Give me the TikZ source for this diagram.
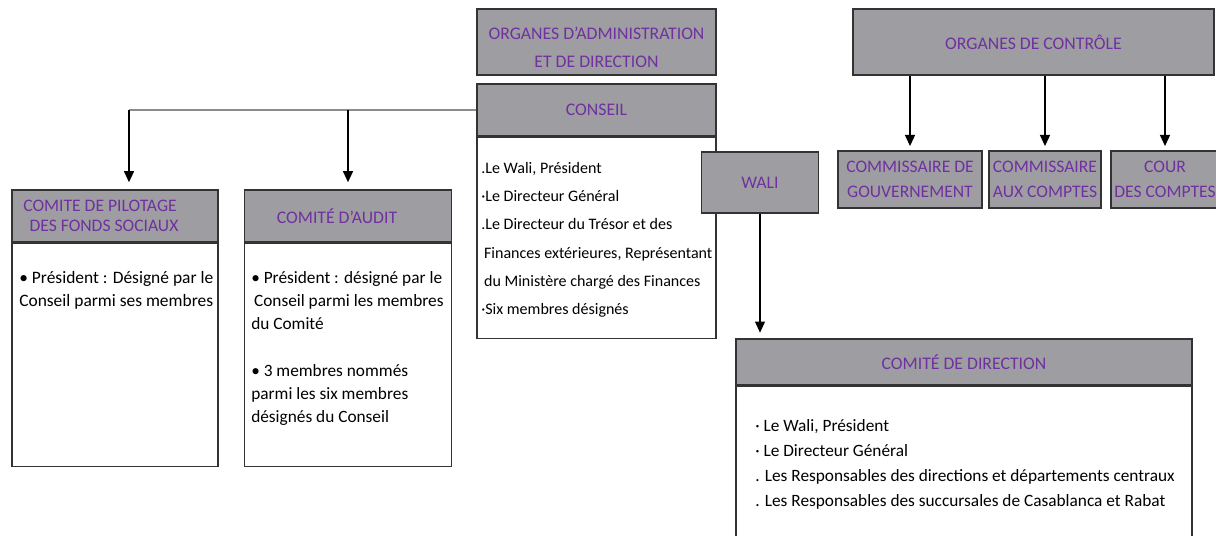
\documentclass[tikz,border=0pt]{standalone}
\usepackage{fontspec}
\setmainfont{Carlito}
\usetikzlibrary{arrows.meta,positioning}
\definecolor{boxgray}{RGB}{158,158,162}
\definecolor{titlepurple}{RGB}{112,48,160}
\newlength\px
\setlength\px{0.025cm}
\tikzset{
  headbox/.style={draw=black!80, line width=0.9pt, fill=boxgray, text=titlepurple,
    align=center, inner sep=0pt, font=\fontsize{12.6}{20}\selectfont},
  bodybox/.style={draw=black!80, line width=0.9pt, fill=white, inner sep=0pt},
  bodytext/.style={anchor=north west, align=left, inner sep=0pt},
  downarrow/.style={line width=1.3pt, -{Triangle[width=7pt,length=8pt]}},
  branchline/.style={line width=1.3pt, black!45},
}

\begin{document}
\begin{tikzpicture}[x=\px, y=-\px]
    \useasboundingbox (0,0) rectangle (1216,535);
    \clip (0,0) rectangle (1216,535);
    % administration and direction
    \node[headbox, minimum width=239\px, minimum height=66\px] (orgadmin) at (596.5,42) {\\[-4pt]ORGANES D’ADMINISTRATION\\ET DE DIRECTION};
    \node[headbox, minimum width=239\px, minimum height=52\px] (conseilhead) at (596.5,110) {CONSEIL};
    \node[bodybox, minimum width=239\px, minimum height=201\px, below=0pt of conseilhead] (conseilbody) {};
    \node[bodytext, font=\fontsize{11.4}{20.1}\selectfont] (conseiltext) at (481,162)
      {.Le Wali, Président\\·Le Directeur Général\\.Le Directeur du Trésor et des\\\hspace*{2pt}Finances extérieures, Représentant\\\hspace*{2pt}du Ministère chargé des Finances\\·Six membres désignés};
    % wali and comite de direction
    \node[headbox, minimum width=117\px, minimum height=61\px] (wali) at (760,182.5) {WALI};
    \node[headbox, minimum width=456\px, minimum height=46\px] (dirhead) at (964,362) {COMITÉ DE DIRECTION};
    \node[bodybox, minimum width=456\px, minimum height=180\px, below=0pt of dirhead] (dirbody) {};
    \node[bodytext, font=\fontsize{12.3}{17.8}\selectfont] (dirtext) at (755,419)
      {· Le Wali, Président\\· Le Directeur Général\\. Les Responsables des directions et départements centraux\\. Les Responsables des succursales de Casablanca et Rabat};
    \draw[downarrow, shorten >=4pt] (wali.south) -- (wali.south |- dirhead.north);
    % organes de controle
    \node[headbox, minimum width=361\px, minimum height=66\px] (controle) at (1033.5,42) {ORGANES DE CONTRÔLE};
    \node[headbox, font=\fontsize{12.5}{17.7}\selectfont, minimum width=144\px, minimum height=57\px] (commgouv) at (910,179.5) {COMMISSAIRE DE\\GOUVERNEMENT};
    \node[headbox, font=\fontsize{12.5}{17.7}\selectfont, minimum width=112\px, minimum height=57\px] (commcomptes) at (1045,179.5) {COMMISSAIRE\\AUX COMPTES};
    \node[headbox, font=\fontsize{12.5}{17.7}\selectfont, minimum width=108\px, minimum height=57\px] (cour) at (1165,179.5) {COUR\\DES COMPTES};
    \draw[downarrow, shorten >=3pt] (controle.south -| commgouv) -- (commgouv.north);
    \draw[downarrow, shorten >=3pt] (controle.south -| commcomptes) -- (commcomptes.north);
    \draw[downarrow, shorten >=3pt] (controle.south -| cour) -- (cour.north);
    % comites of the conseil
    \node[headbox, font=\fontsize{12.5}{13.8}\selectfont, minimum width=206\px, minimum height=52\px] (pilothead) at (115,216)
      {COMITE DE PILOTAGE\hspace*{30\px}\\DES FONDS SOCIAUX\hspace*{22\px}};
    \node[bodybox, minimum width=206\px, minimum height=223\px, below=0pt of pilothead] (pilotbody) {};
    \node[bodytext, font=\fontsize{12.4}{16.5}\selectfont] (pilottext) at (19,271)
      {• Président : Désigné par le\\Conseil parmi ses membres};
    \node[headbox, minimum width=207\px, minimum height=52\px] (audithead) at (348,216) {COMITÉ D’AUDIT\hspace*{22\px}};
    \node[bodybox, minimum width=207\px, minimum height=223\px, below=0pt of audithead] (auditbody) {};
    \node[bodytext, font=\fontsize{12.3}{16.5}\selectfont] (audittext) at (251,271)
      {• Président : désigné par le\\\hspace*{2pt}Conseil parmi les membres\\du Comité\\[16.5pt]• 3 membres nommés\\parmi les six membres\\désignés du Conseil};
    \coordinate (pilotjoint) at (129,110);
    \coordinate (auditjoint) at (348,110);
    \draw[branchline] (conseilhead.west) -- (pilotjoint);
    \draw[downarrow, shorten >=5pt] (pilotjoint) -- (pilotjoint |- pilothead.north);
    \draw[downarrow, shorten >=5pt] (auditjoint) -- (audithead.north);
\end{tikzpicture}
\end{document}
